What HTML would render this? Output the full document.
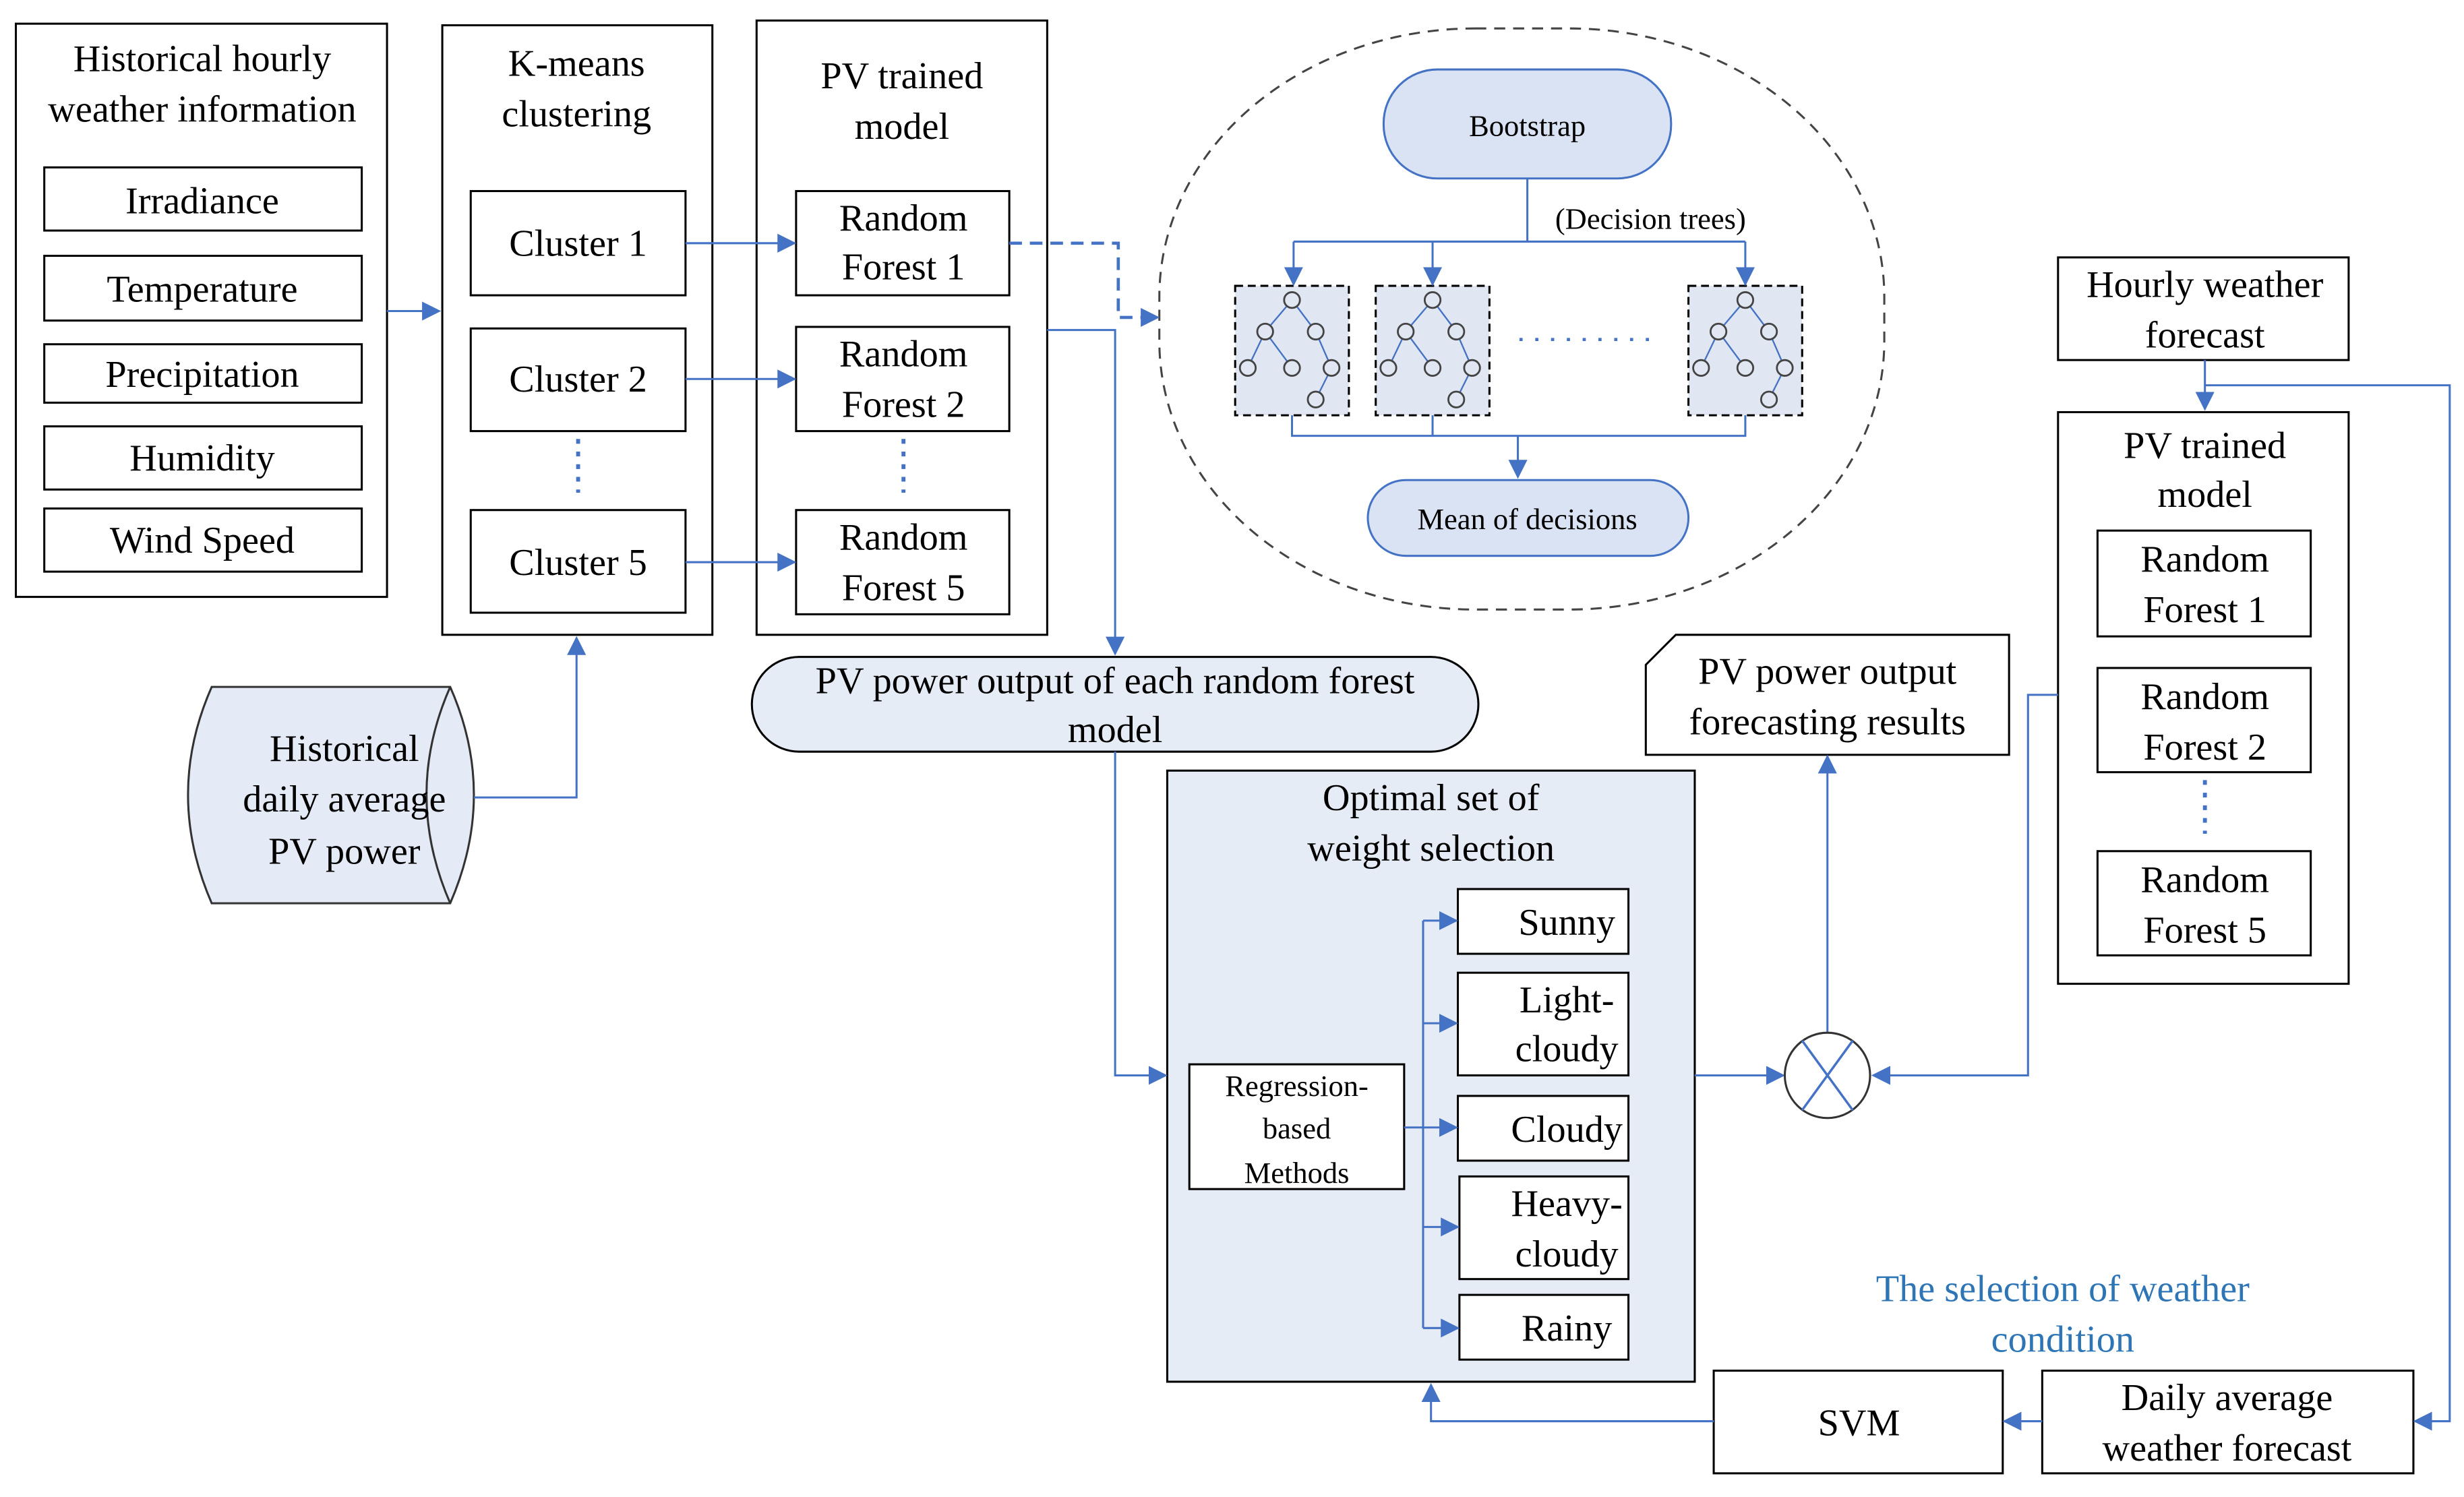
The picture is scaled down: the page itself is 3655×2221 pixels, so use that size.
<!DOCTYPE html>
<html><head><meta charset="utf-8"><style>html,body{margin:0;padding:0;background:#fff}svg{display:block}</style></head>
<body>
<svg xmlns="http://www.w3.org/2000/svg" width="3655" height="2221" viewBox="0 0 1560 948" font-family="'Liberation Serif', serif" font-size="24">
<defs>
<marker id="a" viewBox="0 0 10 10" refX="9" refY="5" markerWidth="12" markerHeight="12" markerUnits="userSpaceOnUse" orient="auto"><path d="M0,0L10,5L0,10z" fill="#4472c4"/></marker>
</defs>
<rect width="1560" height="948" fill="#fff"/>
<g fill="none" stroke="#000" stroke-width="1.3">
<rect x="10" y="15" width="235" height="363"/>
<rect x="28" y="106" width="201" height="40"/>
<rect x="28" y="162" width="201" height="41"/>
<rect x="28" y="218" width="201" height="37"/>
<rect x="28" y="270" width="201" height="40"/>
<rect x="28" y="322" width="201" height="40"/>
<rect x="280" y="16" width="171" height="386"/>
<rect x="298" y="121" width="136" height="66"/>
<rect x="298" y="208" width="136" height="65"/>
<rect x="298" y="323" width="136" height="65"/>
<rect x="479" y="13" width="184" height="389"/>
<rect x="504" y="121" width="135" height="66"/>
<rect x="504" y="207" width="135" height="66"/>
<rect x="504" y="323" width="135" height="66"/>
<rect x="1303" y="163" width="184" height="65"/>
<rect x="1303" y="261" width="184" height="362"/>
<rect x="1328" y="336" width="135" height="67"/>
<rect x="1328" y="423" width="135" height="66"/>
<rect x="1328" y="539" width="135" height="66"/>
<rect x="1293" y="868" width="235" height="65"/>
<rect x="1085" y="868" width="183" height="65"/>
<path d="M1061,402H1272V478H1042V421Z"/>
</g>
<rect x="734" y="18" width="459" height="368" rx="200" ry="170" fill="none" stroke="#444" stroke-width="1.3" stroke-dasharray="7,5"/>
<rect x="876" y="44" width="182" height="69" rx="34" fill="#dae3f3" stroke="#4472c4" stroke-width="1.3"/>
<rect x="866" y="304" width="203" height="48" rx="24" fill="#dae3f3" stroke="#4472c4" stroke-width="1.3"/>
<rect x="476" y="416" width="460" height="60" rx="30" fill="#e6ecf6" stroke="#000" stroke-width="1.3"/>
<path d="M134,435H285Q315,503 285,572H134Q104,503 134,435Z" fill="#e4ebf6" stroke="#333" stroke-width="1.3"/>
<path d="M285,435Q255,503 285,572" fill="none" stroke="#333" stroke-width="1.3"/>
<rect x="739" y="488" width="334" height="387" fill="#e6ecf6" stroke="#000" stroke-width="1.3"/>
<g fill="#fff" stroke="#000" stroke-width="1.3">
<rect x="753" y="674" width="136" height="79"/>
<rect x="923" y="563" width="108" height="41"/>
<rect x="923" y="616" width="108" height="65"/>
<rect x="923" y="694" width="108" height="41"/>
<rect x="924" y="745" width="107" height="65"/>
<rect x="924" y="820" width="107" height="41"/>
</g>
<g id="t">
<rect x="782" y="181" width="72" height="82" fill="#e0e7f2" stroke="#000" stroke-width="1.3" stroke-dasharray="5,3"/>
<g stroke="#4472c4" stroke-width="1" fill="none"><path d="M818,190L801,210M818,190L833,210M801,210L790,233M801,210L818,233M833,210L843,233L833,253"/></g>
<g fill="#e0e7f2" stroke="#444" stroke-width="1.2">
<circle cx="818" cy="190" r="5"/><circle cx="801" cy="210" r="5"/><circle cx="833" cy="210" r="5"/>
<circle cx="790" cy="233" r="5"/><circle cx="818" cy="233" r="5"/><circle cx="843" cy="233" r="5"/><circle cx="833" cy="253" r="5"/></g>
</g>
<use href="#t" x="89"/>
<use href="#t" x="287"/>
<line x1="962" y1="215" x2="1045" y2="215" stroke="#4472c4" stroke-width="2" stroke-dasharray="2,8"/>
<g fill="none" stroke="#4472c4" stroke-width="1.3">
<path d="M245,197H278" marker-end="url(#a)"/>
<path d="M434,154H503" marker-end="url(#a)"/>
<path d="M434,240H503" marker-end="url(#a)"/>
<path d="M434,356H503" marker-end="url(#a)"/>
<path d="M639,154H708V201H733" stroke-width="2" stroke-dasharray="8,5" marker-end="url(#a)"/>
<path d="M663,209H706V414" marker-end="url(#a)"/>
<path d="M706,476V681H738" marker-end="url(#a)"/>
<path d="M300,505H365V404" marker-end="url(#a)"/>
<path d="M967,113V153M819,153H1105"/>
<path d="M819,153V180" marker-end="url(#a)"/>
<path d="M907,153V180" marker-end="url(#a)"/>
<path d="M1105,153V180" marker-end="url(#a)"/>
<path d="M818,263V276H1105V263M907,263V276"/>
<path d="M961,276V302" marker-end="url(#a)"/>
<path d="M889,714H901M901,583V841"/>
<path d="M901,583H922" marker-end="url(#a)"/>
<path d="M901,648H922" marker-end="url(#a)"/>
<path d="M901,714H922" marker-end="url(#a)"/>
<path d="M901,777H923" marker-end="url(#a)"/>
<path d="M901,841H923" marker-end="url(#a)"/>
<path d="M1073,681H1129" marker-end="url(#a)"/>
<path d="M1303,440H1284V681H1186" marker-end="url(#a)"/>
<path d="M1157,654V479" marker-end="url(#a)"/>
<path d="M1396,228V259" marker-end="url(#a)"/>
<path d="M1396,244H1551V900H1529" marker-end="url(#a)"/>
<path d="M1293,900H1269" marker-end="url(#a)"/>
<path d="M1085,900H906V877" marker-end="url(#a)"/>
<path d="M366,278V312M572,278V312M1396,494V528" stroke-width="2.5" stroke-dasharray="3,5"/>
</g>
<circle cx="1157" cy="681" r="27" fill="#fff" stroke="#333" stroke-width="1.3"/>
<path d="M1141,659L1173,703M1173,659L1141,703" stroke="#4472c4" stroke-width="1.5"/>
<g text-anchor="middle" fill="#000">
<text x="128" y="45">Historical hourly</text>
<text x="128" y="77">weather information</text>
<text x="128" y="135">Irradiance</text>
<text x="128" y="191">Temperature</text>
<text x="128" y="245">Precipitation</text>
<text x="128" y="298">Humidity</text>
<text x="128" y="350">Wind Speed</text>
<text x="365" y="48">K-means</text>
<text x="365" y="80">clustering</text>
<text x="366" y="162">Cluster 1</text>
<text x="366" y="248">Cluster 2</text>
<text x="366" y="364">Cluster 5</text>
<text x="571" y="56">PV trained</text>
<text x="571" y="88">model</text>
<text x="572" y="146">Random</text><text x="572" y="177">Forest 1</text>
<text x="572" y="232">Random</text><text x="572" y="264">Forest 2</text>
<text x="572" y="348">Random</text><text x="572" y="380">Forest 5</text>
<text x="218" y="482">Historical</text>
<text x="218" y="514">daily average</text>
<text x="218" y="547">PV power</text>
<text x="706" y="439">PV power output of each random forest</text>
<text x="706" y="470">model</text>
<text x="906" y="513">Optimal set of</text>
<text x="906" y="545">weight selection</text>
<text x="992" y="592">Sunny</text>
<text x="992" y="641">Light-</text><text x="992" y="672">cloudy</text>
<text x="992" y="723">Cloudy</text>
<text x="992" y="770">Heavy-</text><text x="992" y="802">cloudy</text>
<text x="992" y="849">Rainy</text>
<text x="1157" y="433">PV power output</text>
<text x="1157" y="465">forecasting results</text>
<text x="1396" y="188">Hourly weather</text>
<text x="1396" y="220">forecast</text>
<text x="1396" y="290">PV trained</text>
<text x="1396" y="321">model</text>
<text x="1396" y="362">Random</text><text x="1396" y="394">Forest 1</text>
<text x="1396" y="449">Random</text><text x="1396" y="481">Forest 2</text>
<text x="1396" y="565">Random</text><text x="1396" y="597">Forest 5</text>
<text x="1410" y="893">Daily average</text>
<text x="1410" y="925">weather forecast</text>
<text x="1177" y="909">SVM</text>
<text x="1306" y="824" fill="#2e75b6">The selection of weather</text>
<text x="1306" y="856" fill="#2e75b6">condition</text>
<g font-size="19">
<text x="967" y="86">Bootstrap</text>
<text x="967" y="335">Mean of decisions</text>
<text x="1045" y="145">(Decision trees)</text>
<text x="821" y="694">Regression-</text>
<text x="821" y="721">based</text>
<text x="821" y="749">Methods</text>
</g>
</g>
</svg>
</body></html>
